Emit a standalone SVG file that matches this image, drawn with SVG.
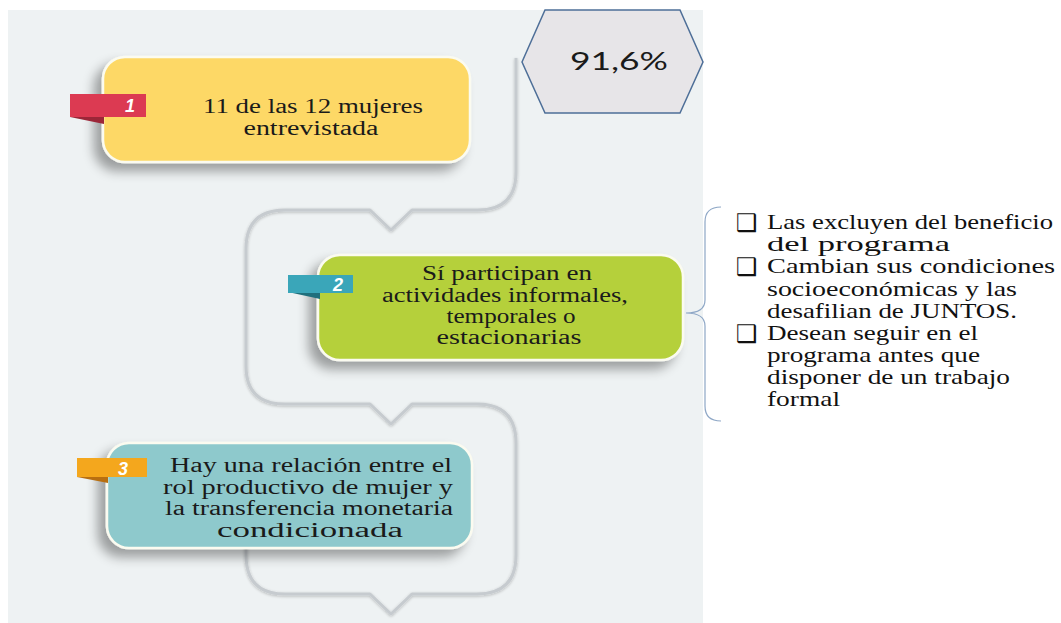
<svg xmlns="http://www.w3.org/2000/svg" width="1061" height="623" viewBox="0 0 1061 623">
<defs>
<filter id="sh" x="-20%" y="-20%" width="140%" height="150%">
<feGaussianBlur in="SourceAlpha" stdDeviation="6"/>
<feOffset dx="-8" dy="8" result="b"/>
<feComponentTransfer><feFuncA type="linear" slope="0.35"/></feComponentTransfer>
<feMerge><feMergeNode/><feMergeNode in="SourceGraphic"/></feMerge>
</filter>
<filter id="lsh" x="-10%" y="-10%" width="120%" height="120%">
<feGaussianBlur in="SourceAlpha" stdDeviation="1.5"/>
<feOffset dx="0" dy="1"/>
<feComponentTransfer><feFuncA type="linear" slope="0.25"/></feComponentTransfer>
<feMerge><feMergeNode/><feMergeNode in="SourceGraphic"/></feMerge>
</filter>
</defs>
<style>
.box{stroke:#fbfbf0;stroke-width:2.5;filter:url(#sh)}
.t{font-family:"Liberation Serif","Times New Roman",serif;font-size:20px;fill:#1a1a1a;text-anchor:middle}
.l{font-family:"Liberation Serif","Times New Roman",serif;font-size:21px;fill:#111}
.cb{font-family:"DejaVu Sans",sans-serif;font-size:24px;fill:#111}
.num{font-family:"Liberation Sans",Arial,sans-serif;font-size:18px;font-weight:bold;font-style:italic;fill:#fff;text-anchor:middle}
.conn{fill:none;stroke:#c6cbcf;stroke-width:3;stroke-linejoin:round}
.brace{fill:none;stroke:#8ea7c6;stroke-width:1.2}
</style>
<rect x="8" y="10" width="695" height="613" fill="#eef2f3"/>
<g id="connectors">
<path class="conn" filter="url(#lsh)" d="M516,58 L516,172 Q516,210 478,210 L412,210 L391,230 L370,210 L285,210 Q246,210 246,249 L246,366 Q246,404 285,404 L370,404 L391,424 L412,404 L477,404 Q516,404 516,443 L516,555 Q516,594 477,594 L412,594 L391,614 L370,594 L285,594 Q246,594 246,555 L246,540"/>
<path class="brace" d="M721,207 Q705,207 705,222 L705,300 Q705,313 686,313 Q705,313 705,326 L705,406 Q705,421 721,421"/>
</g>
<g id="hex">
<polygon points="522,62 545,10 680,10 703,62 680,113 545,113" fill="#e7e5e8" stroke="#4e6f98" stroke-width="1.5"/>
<text x="570" y="70" font-family="Lato,'Open Sans',sans-serif" font-size="25" fill="#1a1a1a" textLength="98" lengthAdjust="spacingAndGlyphs">91,6%</text>
</g>
<g id="node1">
<rect class="box" x="103" y="57" width="367" height="105" rx="22" fill="#fdd866"/>
<polygon points="70,117 104,117 104,124" fill="#9c2638"/>
<rect x="70" y="94" width="76" height="23" fill="#dc3a52"/>
<text class="num" x="130" y="112">1</text>
<text class="t" x="313" y="113" textLength="220" lengthAdjust="spacingAndGlyphs">11 de las 12 mujeres</text>
<text class="t" x="311" y="135" textLength="135" lengthAdjust="spacingAndGlyphs">entrevistada</text>
</g>
<g id="node2">
<rect class="box" x="318" y="255" width="365" height="105" rx="22" fill="#b5d03a"/>
<polygon points="288,292 320,292 320,299" fill="#1f6f7c"/>
<rect x="288" y="275" width="65" height="18" fill="#3aa6b9"/>
<text class="num" x="338" y="291" font-size="17">2</text>
<text class="t" x="507" y="280" textLength="170" lengthAdjust="spacingAndGlyphs">Sí participan en</text>
<text class="t" x="505" y="302" textLength="246" lengthAdjust="spacingAndGlyphs">actividades informales,</text>
<text class="t" x="511" y="323" textLength="129" lengthAdjust="spacingAndGlyphs">temporales o</text>
<text class="t" x="509" y="344" textLength="145" lengthAdjust="spacingAndGlyphs">estacionarias</text>
</g>
<g id="node3">
<rect class="box" x="107" y="443" width="365" height="105" rx="22" fill="#8ec9cc"/>
<polygon points="77,477 108,477 108,483" fill="#b86f10"/>
<rect x="77" y="458" width="70" height="19" fill="#f4a71d"/>
<text class="num" x="123" y="475" font-size="17">3</text>
<text class="t" x="311" y="472" textLength="282" lengthAdjust="spacingAndGlyphs">Hay una relación entre el</text>
<text class="t" x="308" y="494" textLength="290" lengthAdjust="spacingAndGlyphs">rol productivo de mujer y</text>
<text class="t" x="309" y="515" textLength="288" lengthAdjust="spacingAndGlyphs">la transferencia monetaria</text>
<text class="t" x="310" y="537" textLength="186" lengthAdjust="spacingAndGlyphs">condicionada</text>
</g>
<g id="list">
<text class="cb" x="736" y="231">❑</text>
<text class="cb" x="736" y="275">❑</text>
<text class="cb" x="736" y="342">❑</text>
<text class="l" x="767" y="229" textLength="286" lengthAdjust="spacingAndGlyphs">Las excluyen del beneficio</text>
<text class="l" x="767" y="251" textLength="183" lengthAdjust="spacingAndGlyphs">del programa</text>
<text class="l" x="767" y="273" textLength="288" lengthAdjust="spacingAndGlyphs">Cambian sus condiciones</text>
<text class="l" x="767" y="296" textLength="250" lengthAdjust="spacingAndGlyphs">socioeconómicas y las</text>
<text class="l" x="767" y="318" textLength="250" lengthAdjust="spacingAndGlyphs">desafilian de JUNTOS.</text>
<text class="l" x="767" y="340" textLength="211" lengthAdjust="spacingAndGlyphs">Desean seguir en el</text>
<text class="l" x="767" y="362" textLength="213" lengthAdjust="spacingAndGlyphs">programa antes que</text>
<text class="l" x="767" y="384" textLength="243" lengthAdjust="spacingAndGlyphs">disponer de un trabajo</text>
<text class="l" x="767" y="406" textLength="73" lengthAdjust="spacingAndGlyphs">formal</text>
</g>
</svg>
